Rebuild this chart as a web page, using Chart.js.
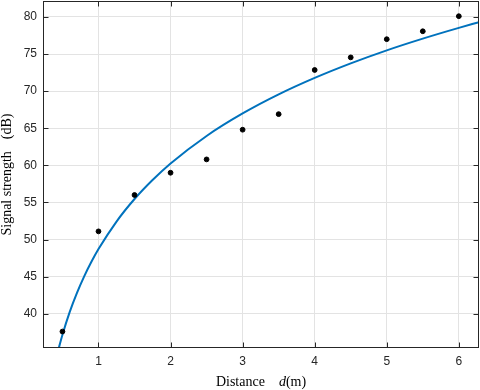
<!DOCTYPE html>
<html>
<head>
<meta charset="utf-8">
<script src="https://cdn.jsdelivr.net/npm/chart.js@4"></script>
<style>
  body { margin: 0; background: #fff; }
  canvas { display: block; }
</style>
</head>
<body>
<canvas id="canvas" width="480" height="390"></canvas>
<script>
// measured points
const distance = [0.5, 1, 1.5, 2, 2.5, 3, 3.5, 4, 4.5, 5, 5.5, 6];
const signal = [37.6, 51.1, 56.0, 59.0, 60.8, 64.8, 66.9, 72.85, 74.55, 77.0, 78.07, 80.1];

// fitted curve
const fitDistance = [0.44, 0.5, 0.6, 0.7, 0.8, 0.9, 1.0, 1.25, 1.5, 1.75, 2, 2.5, 3, 3.5, 4, 4.5, 5, 5.5, 6, 6.28];
const fitSignal = [35.05, 37.17, 40.21, 42.77, 45.0, 46.96, 48.71, 52.42, 55.46, 58.02, 60.25, 63.96, 66.99, 69.56, 71.78, 73.74, 75.5, 77.08, 78.53, 79.29];

const xTicks = [1, 2, 3, 4, 5, 6];
const yTicks = [40, 45, 50, 55, 60, 65, 70, 75, 80];

const axisColor = '#262626';
const serif = '"Liberation Serif", "Times New Roman", serif';

// MATLAB style box, inward ticks and axis titles
const frame = {
  id: 'frame',
  afterDraw(chart) {
    const { ctx, chartArea, scales: { x, y } } = chart;
    const l = Math.round(chartArea.left) + 0.5;
    const r = Math.round(chartArea.right) - 0.5;
    const t = Math.round(chartArea.top) + 0.5;
    const b = Math.round(chartArea.bottom) - 0.5;
    ctx.save();
    ctx.strokeStyle = axisColor;
    ctx.lineWidth = 1;
    ctx.strokeRect(l, t, r - l, b - t);
    ctx.beginPath();
    xTicks.forEach(v => {
      const px = Math.round(x.getPixelForValue(v)) + 0.5;
      ctx.moveTo(px, b); ctx.lineTo(px, b - 5);
      ctx.moveTo(px, t); ctx.lineTo(px, t + 5);
    });
    yTicks.forEach(v => {
      const py = Math.round(y.getPixelForValue(v)) + 0.5;
      ctx.moveTo(l, py); ctx.lineTo(l + 5, py);
      ctx.moveTo(r, py); ctx.lineTo(r - 5, py);
    });
    ctx.stroke();

    ctx.fillStyle = '#000';
    ctx.textBaseline = 'alphabetic';
    // x title: Distance   d(m)
    ctx.font = '14px ' + serif;
    const w1 = ctx.measureText('Distance').width;
    ctx.font = 'italic 14px ' + serif;
    const w2 = ctx.measureText('d').width;
    ctx.font = '14px ' + serif;
    const w3 = ctx.measureText('(m)').width;
    const gap = 14;
    let sx = (chartArea.left + chartArea.right) / 2 - (w1 + gap + w2 + w3) / 2;
    ctx.textAlign = 'left';
    ctx.fillText('Distance', sx, 386);
    sx += w1 + gap;
    ctx.font = 'italic 14px ' + serif;
    ctx.fillText('d', sx, 386);
    sx += w2;
    ctx.font = '14px ' + serif;
    ctx.fillText('(m)', sx, 386);

    // y title: Signal strength  (dB)
    const s1 = ctx.measureText('Signal strength').width;
    const s2 = ctx.measureText('(dB)').width;
    const ygap = 12;
    ctx.translate(11, (chartArea.top + chartArea.bottom) / 2);
    ctx.rotate(-Math.PI / 2);
    const start = -(s1 + ygap + s2) / 2;
    ctx.fillText('Signal strength', start, 0);
    ctx.fillText('(dB)', start + s1 + ygap, 0);
    ctx.restore();
  }
};

function noPad(s) {
  s.paddingTop = 0;
  s.paddingBottom = 0;
  s.paddingLeft = 0;
  s.paddingRight = 0;
}

new Chart(document.getElementById('canvas'), {
  type: 'scatter',
  data: {
    datasets: [
      {
        data: distance.map((d, i) => ({ x: d, y: signal[i] })),
        backgroundColor: '#000',
        borderColor: '#000',
        pointRadius: 2.4,
        order: 0
      },
      {
        type: 'line',
        data: fitDistance.map((d, i) => ({ x: d, y: fitSignal[i] })),
        borderColor: '#0072BD',
        borderWidth: 2,
        pointRadius: 0,
        cubicInterpolationMode: 'monotone',
        fill: false,
        order: 1
      }
    ]
  },
  options: {
    responsive: false,
    animation: false,
    layout: { autoPadding: false, padding: { top: 1, right: 1, left: 0, bottom: 0 } },
    plugins: {
      legend: { display: false },
      tooltip: { enabled: false }
    },
    scales: {
      x: {
        type: 'linear',
        min: 0.23,
        max: 6.28,
        afterFit: s => { s.height = 42; noPad(s); },
        afterBuildTicks: s => { s.ticks = xTicks.map(v => ({ value: v })); },
        grid: { color: '#e3e3e3', drawTicks: false },
        border: { display: false },
        ticks: {
          padding: 6,
          color: axisColor,
          font: { family: '"Liberation Sans", Arial, sans-serif', size: 12 }
        }
      },
      y: {
        type: 'linear',
        min: 35.38,
        max: 82.15,
        afterFit: s => { s.width = 43; noPad(s); },
        afterBuildTicks: s => { s.ticks = yTicks.map(v => ({ value: v })); },
        grid: { color: '#e3e3e3', drawTicks: false },
        border: { display: false },
        ticks: {
          padding: 6,
          color: axisColor,
          font: { family: '"Liberation Sans", Arial, sans-serif', size: 12 }
        }
      }
    }
  },
  plugins: [frame]
});
</script>
</body>
</html>
